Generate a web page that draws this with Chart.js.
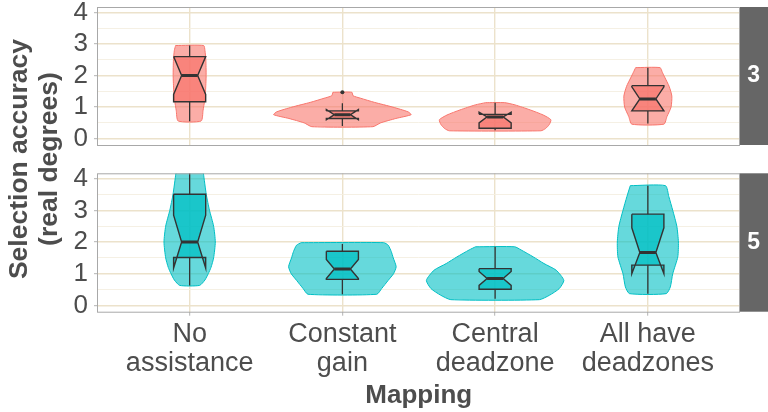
<!DOCTYPE html>
<html>
<head>
<meta charset="utf-8">
<script src="https://cdn.jsdelivr.net/npm/chart.js@4.4.1/dist/chart.umd.min.js"></script>
<style>
  html, body { margin: 0; padding: 0; background: #ffffff; }
  #wrap { position: relative; width: 768px; height: 412px; overflow: hidden; }
  #wrap canvas { position: absolute; left: 0; }
  #ytitle {
    position: absolute; left: -117.5px; top: 129px; width: 300px; height: 60px;
    transform: rotate(-90deg);
    font: bold 26.5px "Liberation Sans", Arial, sans-serif; line-height: 30px;
    text-align: center; color: #4d4d4d; white-space: nowrap;
  }
</style>
</head>
<body>
<div id="wrap">
  <canvas id="panel3" width="768" height="160" style="top:0px"></canvas>
  <canvas id="panel5" width="768" height="252" style="top:160px"></canvas>
  <div id="ytitle">Selection accuracy<br>(real degrees)</div>
</div>
<script>
// ---- categories and tick labels ----
const mappingLabels = [['No', 'assistance'], ['Constant', 'gain'], ['Central', 'deadzone'], ['All have', 'deadzones']];
const facetLabels = ['3', '5'];
const yMajorTicks = [0, 1, 2, 3, 4];
const yGridValues = [0, 0.5, 1, 1.5, 2, 2.5, 3, 3.5, 4];

// ---- facet "3": box-plot summaries (real degrees) ----
const q1Facet3 = [1.17, 0.64, 0.33, 0.88];
const medianFacet3 = [2.0, 0.76, 0.69, 1.26];
const q3Facet3 = [2.6, 0.88, 0.77, 1.68];
const notchLowFacet3 = [1.4, 0.6, 0.5, 0.88];
const notchHighFacet3 = [2.6, 0.92, 0.84, 1.64];
const whiskerLowFacet3 = [0.55, 0.40, 0.27, 0.48];
const whiskerHighFacet3 = [2.95, 1.12, 1.14, 2.25];
const outliersFacet3 = [[], [1.47], [], []];

// ---- facet "5": box-plot summaries ----
const q1Facet5 = [1.51, 0.82, 0.51, 1.27];
const medianFacet5 = [2.0, 1.15, 0.85, 1.67];
const q3Facet5 = [3.51, 1.71, 1.16, 2.88];
const notchLowFacet5 = [1.18, 0.85, 0.63, 1.0];
const notchHighFacet5 = [2.85, 1.45, 1.07, 2.45];
const whiskerLowFacet5 = [0.63, 0.35, 0.21, 0.37];
const whiskerHighFacet5 = [4.3, 1.94, 1.85, 3.78];
const outliersFacet5 = [[], [], [], []];

// ---- violin density profiles: [value, half-width in category units] ----
const violin3NoAssistance = [[2.95, 0.092], [2.8, 0.10], [2.5, 0.106], [2.0, 0.108], [1.5, 0.104], [1.2, 0.098], [0.9, 0.088], [0.56, 0.075]];
const violin3ConstantGain = [[1.47, 0.062], [1.36, 0.07], [1.28, 0.12], [1.15, 0.21], [1.0, 0.33], [0.85, 0.43], [0.76, 0.45], [0.64, 0.35], [0.5, 0.25], [0.38, 0.2]];
const violin3CentralDeadzone = [[1.14, 0.063], [1.07, 0.13], [0.91, 0.23], [0.75, 0.315], [0.6, 0.365], [0.45, 0.355], [0.32, 0.33], [0.25, 0.3]];
const violin3AllDeadzones = [[2.25, 0.08], [2.1, 0.095], [1.95, 0.11], [1.65, 0.14], [1.35, 0.157], [1.0, 0.152], [0.7, 0.125], [0.46, 0.105]];

const violin5NoAssistance = [[4.3, 0.085], [4.17, 0.09], [3.5, 0.109], [3.0, 0.13], [2.5, 0.157], [2.0, 0.168], [1.5, 0.157], [1.2, 0.14], [1.0, 0.122], [0.8, 0.1], [0.63, 0.065]];
const violin5ConstantGain = [[1.98, 0.27], [1.9, 0.30], [1.7, 0.32], [1.5, 0.333], [1.22, 0.352], [1.0, 0.335], [0.79, 0.30], [0.53, 0.257], [0.35, 0.225]];
const violin5CentralDeadzone = [[1.85, 0.128], [1.75, 0.17], [1.53, 0.25], [1.32, 0.32], [1.11, 0.40], [0.79, 0.45], [0.53, 0.42], [0.32, 0.356], [0.18, 0.29]];
const violin5AllDeadzones = [[3.78, 0.115], [3.44, 0.137], [3.0, 0.163], [2.49, 0.19], [2.0, 0.20], [1.53, 0.196], [1.0, 0.163], [0.58, 0.147], [0.37, 0.12]];

// ---- styling ----
const FONT = '"Liberation Sans", Arial, Helvetica, sans-serif';
const GRID_MAJOR = '#ece2cb';
const GRID_MINOR = '#f4eee1';
const AXIS_GREY = '#b3b3b3';
const TEXT_GREY = '#4d4d4d';
const BOX_LINE = '#333333';
const BOX_HALF = 0.105;
const NOTCH_INDENT = BOX_HALF * 0.5;

const facets = [
  {
    canvas: 'panel3', label: facetLabels[0], height: 160, padTop: 7, axisHeight: 0, showX: false,
    line: '#F8766D', violinFill: 'rgba(248,118,109,0.6)', boxFill: 'rgba(248,118,109,0.75)',
    violins: [violin3NoAssistance, violin3ConstantGain, violin3CentralDeadzone, violin3AllDeadzones],
    q1: q1Facet3, median: medianFacet3, q3: q3Facet3, notchLow: notchLowFacet3, notchHigh: notchHighFacet3,
    whiskerLow: whiskerLowFacet3, whiskerHigh: whiskerHighFacet3, outliers: outliersFacet3
  },
  {
    canvas: 'panel5', label: facetLabels[1], height: 252, padTop: 13.3, axisHeight: 100.3, showX: true,
    line: '#00BFC4', violinFill: 'rgba(0,191,196,0.6)', boxFill: 'rgba(0,191,196,0.75)',
    violins: [violin5NoAssistance, violin5ConstantGain, violin5CentralDeadzone, violin5AllDeadzones],
    q1: q1Facet5, median: medianFacet5, q3: q3Facet5, notchLow: notchLowFacet5, notchHigh: notchHighFacet5,
    whiskerLow: whiskerLowFacet5, whiskerHigh: whiskerHighFacet5, outliers: outliersFacet5
  }
];

// closed outline of a violin around category position `center`
function violinOutline(center, profile) {
  const left = profile.map(([y, w]) => ({ x: center - w, y }));
  const right = profile.slice().reverse().map(([y, w]) => ({ x: center + w, y }));
  return [...left, ...right, left[0]];
}

// closed outline of a notched box (same vertex order ggplot uses)
function notchedBox(c, q1, med, q3, nLo, nHi) {
  const a = c - BOX_HALF, b = c + BOX_HALF;
  return [
    { x: a, y: q3 }, { x: a, y: nHi }, { x: a + NOTCH_INDENT, y: med }, { x: a, y: nLo }, { x: a, y: q1 },
    { x: b, y: q1 }, { x: b, y: nLo }, { x: b - NOTCH_INDENT, y: med }, { x: b, y: nHi }, { x: b, y: q3 },
    { x: a, y: q3 }
  ];
}

function buildDatasets(f) {
  const ds = [];
  f.violins.forEach((profile, i) => {
    ds.push({
      data: violinOutline(i + 1, profile), borderColor: f.line, backgroundColor: f.violinFill,
      borderWidth: 1, fill: 'shape', tension: 0.2, pointRadius: 0, order: 5, clip: 0
    });
  });
  const whiskers = [];
  f.q1.forEach((q, i) => {
    const c = i + 1;
    whiskers.push({ x: c, y: f.whiskerLow[i] }, { x: c, y: q }, { x: c, y: null },
                  { x: c, y: f.q3[i] }, { x: c, y: f.whiskerHigh[i] }, { x: c, y: null });
  });
  ds.push({ data: whiskers, borderColor: BOX_LINE, borderWidth: 1.3, pointRadius: 0, fill: false, spanGaps: false, order: 4, clip: 0 });
  f.q1.forEach((q, i) => {
    ds.push({
      data: notchedBox(i + 1, q, f.median[i], f.q3[i], f.notchLow[i], f.notchHigh[i]),
      borderColor: BOX_LINE, backgroundColor: f.boxFill, borderWidth: 1.4, borderJoinStyle: 'miter',
      fill: 'shape', tension: 0, pointRadius: 0, order: 3, clip: 0
    });
  });
  const medians = [];
  f.median.forEach((m, i) => {
    const c = i + 1;
    medians.push({ x: c - BOX_HALF + NOTCH_INDENT, y: m }, { x: c + BOX_HALF - NOTCH_INDENT, y: m }, { x: c, y: null });
  });
  ds.push({ data: medians, borderColor: BOX_LINE, borderWidth: 3, borderCapStyle: 'butt', pointRadius: 0, fill: false, spanGaps: false, order: 2, clip: 0 });
  const outPts = [];
  f.outliers.forEach((vals, i) => vals.forEach(v => outPts.push({ x: i + 1, y: v })));
  ds.push({ data: outPts, showLine: false, pointRadius: 2, pointBackgroundColor: BOX_LINE, pointBorderWidth: 0, order: 1 });
  return ds;
}

// strip on the right and the panel border
const facetFrame = {
  id: 'facetFrame',
  afterDraw(chart, args, opts) {
    const { ctx, chartArea: a } = chart;
    ctx.save();
    ctx.fillStyle = '#666666';
    ctx.fillRect(a.right, a.top, chart.width - a.right, a.bottom - a.top);
    ctx.strokeStyle = '#a8a8a8';
    ctx.lineWidth = 1;
    ctx.strokeRect(a.left - 0.5, a.top + 0.5, a.right - a.left + 0.5, a.bottom - a.top);
    ctx.fillStyle = '#ffffff';
    ctx.font = 'bold 23px ' + FONT;
    ctx.textAlign = 'center';
    ctx.textBaseline = 'middle';
    ctx.fillText(opts.label, (a.right + chart.width) / 2, (a.top + a.bottom) / 2);
    ctx.restore();
  }
};

facets.forEach(f => {
  new Chart(document.getElementById(f.canvas), {
    type: 'line',
    data: { datasets: buildDatasets(f) },
    plugins: [facetFrame],
    options: {
      responsive: false, animation: false, events: [],
      layout: { padding: { top: f.padTop, right: 28.5, left: 0, bottom: f.showX ? 0 : f.height - 145 } },
      plugins: { legend: { display: false }, tooltip: { enabled: false }, facetFrame: { label: f.label } },
      scales: {
        x: {
          type: 'linear', min: 0.4, max: 4.6,
          afterBuildTicks: s => { s.ticks = mappingLabels.map((_, i) => ({ value: i + 1 })); },
          afterFit: s => { s.height = f.axisHeight; s.paddingLeft = 0; s.paddingRight = 0; },
          border: { display: false },
          grid: { color: GRID_MAJOR, lineWidth: 1.4, drawTicks: f.showX, tickLength: 4, tickColor: AXIS_GREY, tickWidth: 1 },
          ticks: {
            display: f.showX, autoSkip: false, maxRotation: 0, minRotation: 0, padding: 3.5,
            color: TEXT_GREY, font: { family: FONT, size: 27, lineHeight: 1.1 },
            callback: v => mappingLabels[Math.round(v) - 1]
          },
          title: {
            display: f.showX, text: 'Mapping', color: TEXT_GREY,
            font: { family: FONT, size: 26, weight: 'bold', lineHeight: 1.15 }, padding: { top: 0, bottom: 1 }
          }
        },
        y: {
          type: 'linear', min: -0.2, max: 4.17,
          afterBuildTicks: s => { s.ticks = yGridValues.map(v => ({ value: v })); },
          afterFit: s => { s.width = 98; s.paddingTop = 0; s.paddingBottom = 0; },
          border: { display: false },
          grid: {
            color: c => yMajorTicks.includes(c.tick && c.tick.value) ? GRID_MAJOR : GRID_MINOR,
            lineWidth: c => yMajorTicks.includes(c.tick && c.tick.value) ? 1.4 : 0.9,
            tickColor: c => yMajorTicks.includes(c.tick && c.tick.value) ? AXIS_GREY : 'rgba(0,0,0,0)',
            tickLength: 4, tickWidth: 1
          },
          ticks: {
            autoSkip: false, padding: 6, color: TEXT_GREY, font: { family: FONT, size: 26 },
            callback: v => yMajorTicks.includes(v) ? String(v) : ''
          }
        }
      }
    }
  });
});
</script>
</body>
</html>
